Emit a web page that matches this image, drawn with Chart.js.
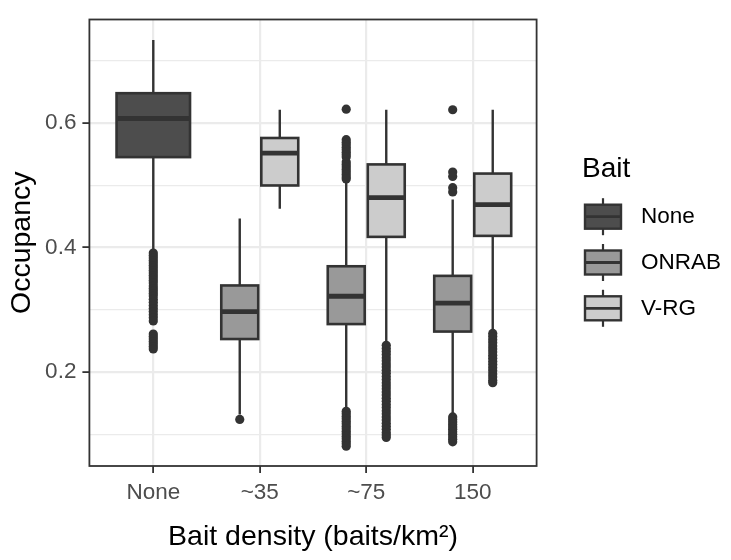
<!DOCTYPE html>
<html><head><meta charset="utf-8">
<script src="https://cdn.jsdelivr.net/npm/chart.js@4.4.0/dist/chart.umd.min.js"></script>
<style>html,body{margin:0;padding:0;background:#fff}canvas{display:block}</style>
</head><body>
<canvas id="c" width="731" height="560"></canvas>
<script>
// ---------- data ----------
const categories = ['None', '~35', '~75', '150'];
const baitTypes = ['None', 'ONRAB', 'V-RG'];
const yTickValues = [0.1, 0.2, 0.3, 0.4, 0.5, 0.6, 0.7];

// one entry per box
const boxCategory = ['None', '~35', '~35', '~75', '~75', '150', '150'];
const boxBait     = ['None', 'ONRAB', 'V-RG', 'ONRAB', 'V-RG', 'ONRAB', 'V-RG'];
const whiskerLow  = [0.396, 0.132, 0.462, 0.143, 0.249, 0.134, 0.268];
const q1          = [0.545, 0.253, 0.4995, 0.277, 0.417, 0.265, 0.4186];
const median      = [0.607, 0.297, 0.5513, 0.3217, 0.480, 0.3106, 0.4688];
const q3          = [0.6476, 0.339, 0.5757, 0.3698, 0.5333, 0.3544, 0.5186];
const whiskerHigh = [0.733, 0.4465, 0.621, 0.505, 0.621, 0.477, 0.621];

const outliersNoneNone = [0.391, 0.387, 0.383, 0.379, 0.375, 0.371, 0.367, 0.363, 0.359, 0.355, 0.351, 0.347, 0.343, 0.338, 0.334, 0.330, 0.326, 0.322, 0.317, 0.312, 0.307, 0.302, 0.297, 0.292, 0.287, 0.282,
  0.261, 0.257, 0.253, 0.249, 0.245, 0.241, 0.237];
const outliers35Onrab = [0.124];
const outliers35Vrg = [];
const outliers75Onrab = [0.622, 0.573, 0.569, 0.565, 0.561, 0.557, 0.553, 0.549, 0.545, 0.537, 0.533, 0.529, 0.525, 0.521, 0.517, 0.513, 0.510,
  0.137, 0.133, 0.129, 0.125, 0.121, 0.117, 0.113, 0.109, 0.105, 0.101, 0.097, 0.093, 0.089, 0.085, 0.081];
const outliers75Vrg = [0.243, 0.238, 0.233, 0.228, 0.223, 0.218, 0.213, 0.208, 0.203, 0.198, 0.193, 0.188, 0.183, 0.178, 0.173, 0.168, 0.163, 0.158, 0.153, 0.148, 0.143, 0.138, 0.133, 0.128, 0.123, 0.118, 0.113, 0.108, 0.103, 0.099, 0.095];
const outliers150Onrab = [0.621, 0.521, 0.514, 0.496, 0.489,
  0.128, 0.124, 0.120, 0.116, 0.112, 0.108, 0.104, 0.100, 0.096, 0.092, 0.088];
const outliers150Vrg = [0.262, 0.257, 0.252, 0.247, 0.242, 0.237, 0.232, 0.227, 0.222, 0.217, 0.212, 0.207, 0.202, 0.197, 0.192, 0.187, 0.183];
const boxOutliers = [outliersNoneNone, outliers35Onrab, outliers35Vrg, outliers75Onrab, outliers75Vrg, outliers150Onrab, outliers150Vrg];

// ---------- styling / layout ----------
const FONT = '"Liberation Sans", Arial, Helvetica, sans-serif';
Chart.defaults.font.family = FONT;
const fills = { 'None': '#4D4D4D', 'ONRAB': '#999999', 'V-RG': '#CCCCCC' };
const INK = '#333333';
const dodge = { 'None': 0, 'ONRAB': -0.188, 'V-RG': 0.188 };
const widthFor = b => (b === 'None' ? 0.69 : 0.347);
const posOf = i => categories.indexOf(boxCategory[i]) + 1 + dodge[boxBait[i]];

const datasets = boxOutliers.map((arr, i) => ({
  label: boxBait[i] + ' ' + boxCategory[i],
  data: arr.map(v => ({ x: posOf(i), y: v })),
  pointRadius: 4.6,
  pointHoverRadius: 4.6,
  backgroundColor: INK,
  borderWidth: 0
}));

const boxPlugin = {
  id: 'boxes',
  afterDatasetsDraw(chart) {
    const { ctx, scales: { x, y } } = chart;
    ctx.save();
    for (let i = 0; i < boxBait.length; i++) {
      const xc = x.getPixelForValue(posOf(i));
      const hw = (x.getPixelForValue(widthFor(boxBait[i])) - x.getPixelForValue(0)) / 2;
      const yL = y.getPixelForValue(whiskerLow[i]);
      const y1 = y.getPixelForValue(q1[i]);
      const ym = y.getPixelForValue(median[i]);
      const y3 = y.getPixelForValue(q3[i]);
      const yH = y.getPixelForValue(whiskerHigh[i]);
      ctx.strokeStyle = INK;
      ctx.lineWidth = 2.4;
      ctx.lineCap = 'butt';
      ctx.beginPath();
      ctx.moveTo(xc, yL); ctx.lineTo(xc, y1);
      ctx.moveTo(xc, y3); ctx.lineTo(xc, yH);
      ctx.stroke();
      ctx.fillStyle = fills[boxBait[i]];
      ctx.fillRect(xc - hw, y3, 2 * hw, y1 - y3);
      ctx.lineJoin = 'miter';
      ctx.lineWidth = 2.6;
      ctx.strokeRect(xc - hw, y3, 2 * hw, y1 - y3);
      ctx.lineWidth = 4.8;
      ctx.beginPath();
      ctx.moveTo(xc - hw, ym); ctx.lineTo(xc + hw, ym);
      ctx.stroke();
    }
    ctx.restore();
  },
  afterDraw(chart) {
    const { ctx, chartArea: a } = chart;
    ctx.save();
    ctx.strokeStyle = INK;
    ctx.lineWidth = 1.8;
    ctx.strokeRect(a.left, a.top, a.right - a.left, a.bottom - a.top);
    // legend
    ctx.fillStyle = '#000';
    ctx.font = '28px ' + FONT;
    ctx.textAlign = 'left';
    ctx.textBaseline = 'alphabetic';
    ctx.fillText('Bait', 582, 177);
    baitTypes.forEach((b, k) => {
      const yc = 216.7 + k * 45.8;
      const xc = 603;
      ctx.strokeStyle = INK;
      ctx.lineWidth = 2.2;
      ctx.beginPath();
      ctx.moveTo(xc, yc - 18.5); ctx.lineTo(xc, yc + 18.5);
      ctx.stroke();
      ctx.fillStyle = fills[b];
      ctx.fillRect(585, yc - 12, 36, 24);
      ctx.lineWidth = 2.4;
      ctx.strokeRect(585, yc - 12, 36, 24);
      ctx.lineWidth = 2.8;
      ctx.beginPath();
      ctx.moveTo(585, yc); ctx.lineTo(621, yc);
      ctx.stroke();
      ctx.fillStyle = '#000';
      ctx.font = '22.5px ' + FONT;
      ctx.textBaseline = 'middle';
      ctx.fillText(b, 641, yc + 0.5);
      ctx.textBaseline = 'alphabetic';
    });
    ctx.restore();
  }
};

new Chart(document.getElementById('c'), {
  type: 'scatter',
  data: { datasets },
  plugins: [boxPlugin],
  options: {
    responsive: false,
    animation: false,
    events: [],
    layout: { padding: { left: 0, top: 14.5, right: 194.4, bottom: 0 } },
    plugins: { legend: { display: false }, tooltip: { enabled: false } },
    scales: {
      x: {
        type: 'linear',
        min: 0.4, max: 4.6,
        afterBuildTicks: s => { s.ticks = categories.map((c, i) => ({ value: i + 1 })); },
        afterFit: s => { s.height = 94; },
        ticks: {
          callback: v => categories[Math.round(v) - 1],
          font: { size: 22.5 }, color: '#4D4D4D', padding: 6,
          maxRotation: 0, autoSkip: false
        },
        grid: { color: '#EBEBEB', lineWidth: 2.2, tickLength: 7, tickColor: INK, tickWidth: 1.8 },
        border: { display: false },
        title: { display: true, text: 'Bait density (baits/km²)', color: '#000',
                 font: { size: 28.5 }, padding: { top: 0, bottom: 6 } }
      },
      y: {
        type: 'linear',
        min: 0.0492, max: 0.7659,
        afterBuildTicks: s => { s.ticks = yTickValues.map(v => ({ value: v })); },
        afterFit: s => { s.width = 89.4; },
        ticks: {
          callback: v => (Math.round(v * 10) % 2 === 0 ? v.toFixed(1) : ''),
          font: { size: 22.5 }, color: '#4D4D4D', padding: 6, autoSkip: false
        },
        grid: {
          color: '#EBEBEB',
          lineWidth: c => (Math.round(c.tick.value * 10) % 2 === 0 ? 2.2 : 1.2),
          tickLength: 7,
          tickColor: c => (Math.round(c.tick.value * 10) % 2 === 0 ? INK : 'rgba(0,0,0,0)'),
          tickWidth: 1.8
        },
        border: { display: false },
        title: { display: true, text: 'Occupancy', color: '#000',
                 font: { size: 28.5 }, padding: { top: 5, bottom: 0 } }
      }
    }
  }
});
</script>
</body></html>
